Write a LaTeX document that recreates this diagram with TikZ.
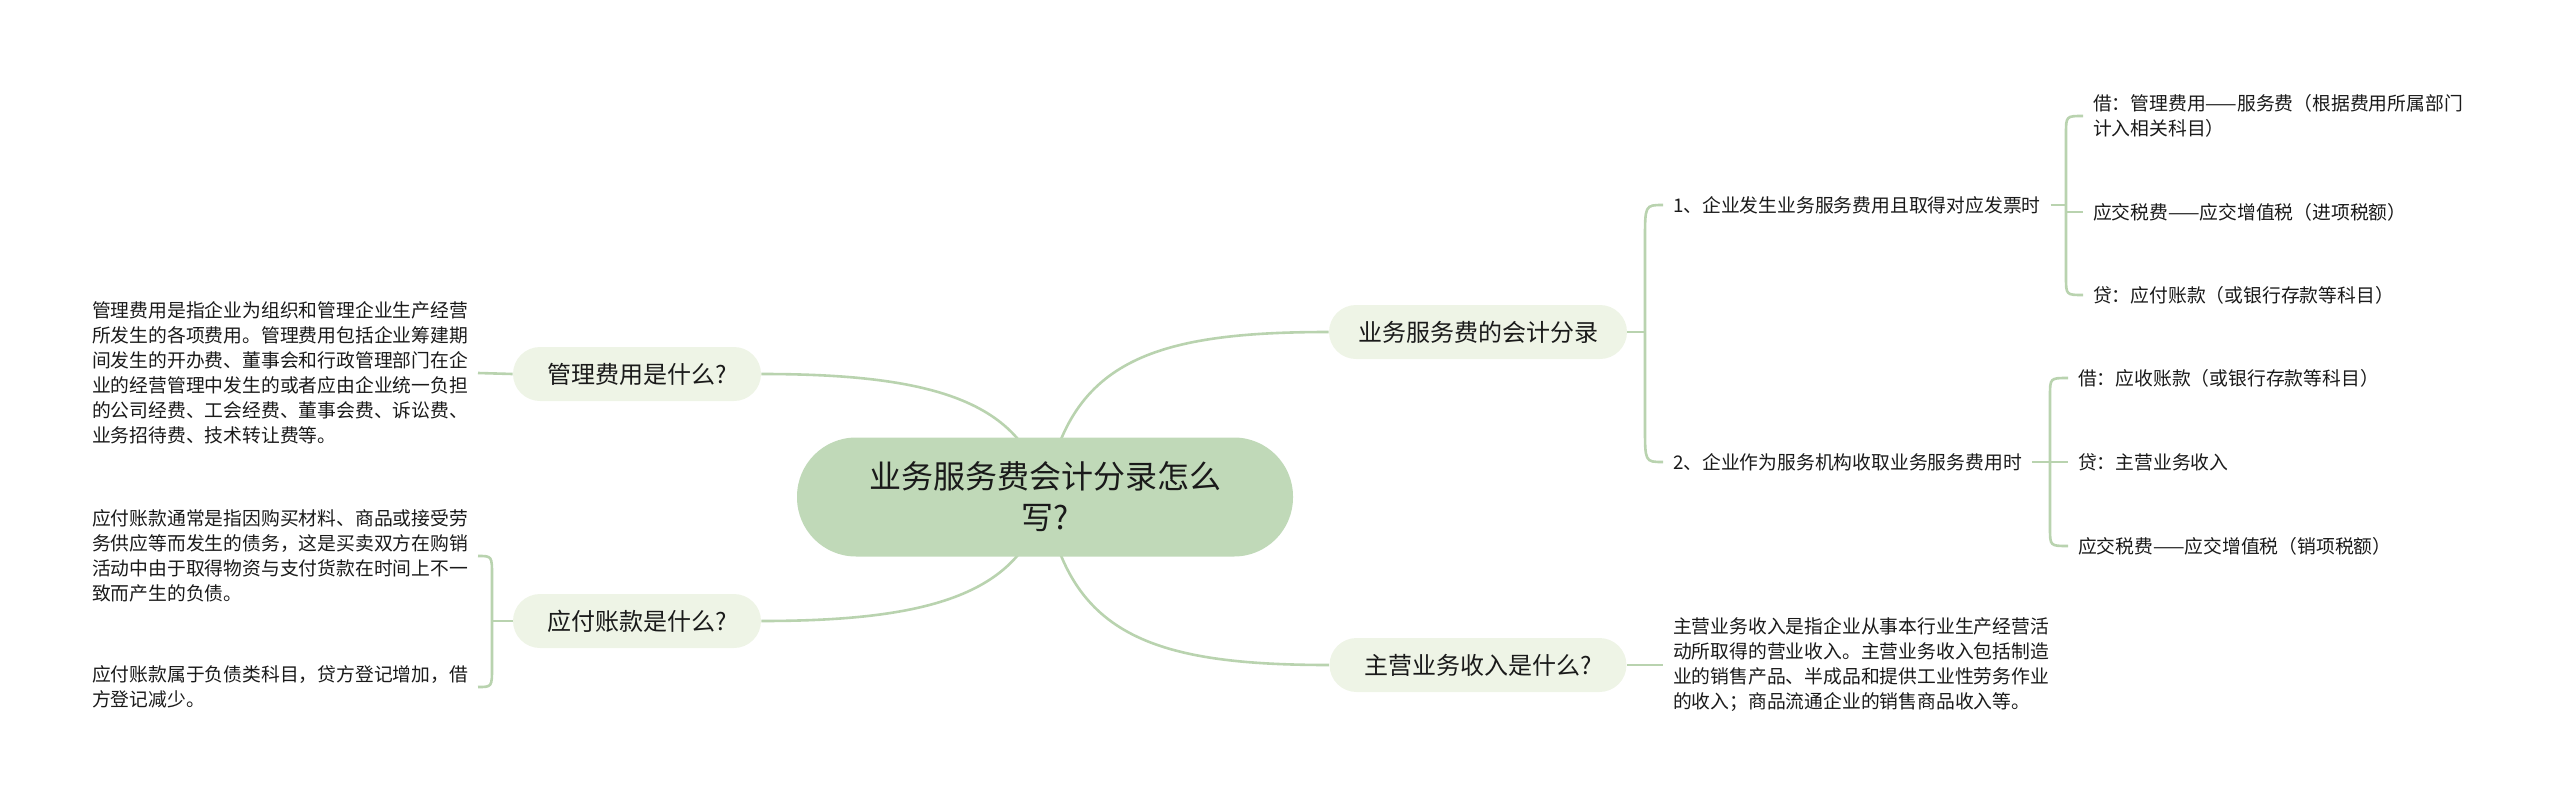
\documentclass[tikz,border=0pt]{standalone}
\usepackage{fontspec}
\setmainfont{Noto Sans CJK SC}
\usetikzlibrary{calc}
\definecolor{rootfill}{HTML}{C0D9B8}
\definecolor{subfill}{HTML}{EEF4E6}
\definecolor{linec}{HTML}{B9D3AF}
\definecolor{txt}{HTML}{1A1A1A}
\pgfdeclarelayer{bg}
\pgfsetlayers{bg,main}
\begin{document}
\begin{tikzpicture}[x=0.5pt,y=-0.5pt,
  conn/.style={draw=linec, line width=1.3pt},
  rootnode/.style={fill=rootfill, rounded corners=29.5pt, minimum width=248pt, minimum height=59.5pt, align=center, font=\fontsize{16}{20.5}\selectfont, text=txt, inner sep=0pt},
  subnode/.style={fill=subfill, rounded corners=13.5pt, minimum height=27pt, inner sep=0pt, font=\fontsize{12}{14}\selectfont, text=txt},
  leaf/.style={align=left, inner sep=0pt, outer xsep=5pt, font=\fontsize{9.4}{12.5}\selectfont, text=txt},
]
\useasboundingbox (0,0) rectangle (2560,803);

% root and branches
\node[rootnode] (root) at (1045,497) {业务服务费会计分录怎么\\写?};
\node[subnode, minimum width=124pt] (n1) at (637,374) {管理费用是什么?};
\node[subnode, minimum width=124pt] (n2) at (637,621) {应付账款是什么?};
\node[subnode, minimum width=149pt] (n3) at (1478,332) {业务服务费的会计分录};
\node[subnode, minimum width=148.5pt] (n4) at (1478,665) {主营业务收入是什么?};

% left leaves
\node[leaf, anchor=west] (L1) at (82,373) {管理费用是指企业为组织和管理企业生产经营\\所发生的各项费用。管理费用包括企业筹建期\\间发生的开办费、董事会和行政管理部门在企\\业的经营管理中发生的或者应由企业统一负担\\的公司经费、工会经费、董事会费、诉讼费、\\业务招待费、技术转让费等。};
\node[leaf, anchor=west] (L2a) at (82,556) {应付账款通常是指因购买材料、商品或接受劳\\务供应等而发生的债务，这是买卖双方在购销\\活动中由于取得物资与支付货款在时间上不一\\致而产生的负债。};
\node[leaf, anchor=west] (L2b) at (82,687) {应付账款属于负债类科目，贷方登记增加，借\\方登记减少。};

% right leaves
\node[leaf, anchor=west] (R1) at (1663,205) {1、企业发生业务服务费用且取得对应发票时};
\node[leaf, anchor=west] (R2) at (1663,462) {2、企业作为服务机构收取业务服务费用时};
\node[leaf, anchor=west] (R1a) at (2083,116) {借：管理费用——服务费（根据费用所属部门\\计入相关科目）};
\node[leaf, anchor=west] (R1b) at (2083,212) {应交税费——应交增值税（进项税额）};
\node[leaf, anchor=west] (R1c) at (2083,295) {贷：应付账款（或银行存款等科目）};
\node[leaf, anchor=west] (R2a) at (2068,378) {借：应收账款（或银行存款等科目）};
\node[leaf, anchor=west] (R2b) at (2068,462) {贷：主营业务收入};
\node[leaf, anchor=west] (R2c) at (2068,546) {应交税费——应交增值税（销项税额）};
\node[leaf, anchor=west] (R4) at (1663,665) {主营业务收入是指企业从事本行业生产经营活\\动所取得的营业收入。主营业务收入包括制造\\业的销售产品、半成品和提供工业性劳务作业\\的收入；商品流通企业的销售商品收入等。};

\coordinate (b2) at (492,621);
\coordinate (b3) at (1645,332);
\coordinate (b5) at (2066,205);
\coordinate (b6) at (2050,462);

\begin{pgfonlayer}{bg}
% root connectors
\draw[conn] (root.center) .. controls (1025,400) and (930,374) .. (n1.east);
\draw[conn] (root.center) .. controls (1025,594) and (930,621) .. (n2.east);
\draw[conn] (root.center) .. controls (1068,362) and (1150,332) .. (n3.west);
\draw[conn] (root.center) .. controls (1068,634) and (1150,665) .. (n4.west);
\end{pgfonlayer}

% left side
\draw[conn] (n1.west) -- (L1.east);
\draw[conn] (n2.west) -- (b2);
\draw[conn] (L2a.east) .. controls (b2 |- L2a.east) .. ($(b2 |- L2a.east)+(0,20)$)
  -- ($(b2 |- L2b.east)+(0,-20)$) .. controls (b2 |- L2b.east) .. (L2b.east);

% right side
\draw[conn] (n3.east) -- (b3);
\draw[conn] (R1.west) .. controls (b3 |- R1.west) .. ($(b3 |- R1.west)+(0,35)$)
  -- ($(b3 |- R2.west)+(0,-35)$) .. controls (b3 |- R2.west) .. (R2.west);

\draw[conn] (R1.east) -- (b5);
\draw[conn] (R1a.west) .. controls (b5 |- R1a.west) .. ($(b5 |- R1a.west)+(0,18)$)
  -- ($(b5 |- R1c.west)+(0,-18)$) .. controls (b5 |- R1c.west) .. (R1c.west);
\draw[conn] (b5 |- R1b.west) -- (R1b.west);

\draw[conn] (R2.east) -- (R2b.west);
\draw[conn] (R2a.west) .. controls (b6 |- R2a.west) .. ($(b6 |- R2a.west)+(0,18)$)
  -- ($(b6 |- R2c.west)+(0,-18)$) .. controls (b6 |- R2c.west) .. (R2c.west);

\draw[conn] (n4.east) -- (R4.west);
\end{tikzpicture}
\end{document}
